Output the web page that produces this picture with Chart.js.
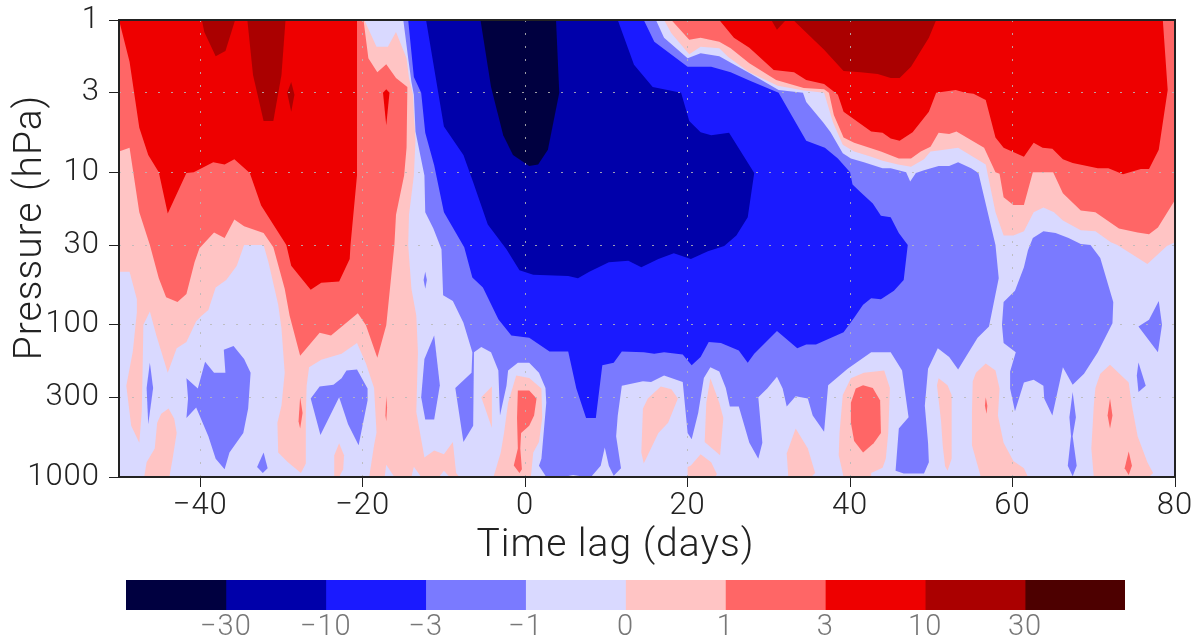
<!DOCTYPE html>
<html>
<head>
<meta charset="utf-8">
<title>Time lag pressure section</title>
<script src="https://cdn.jsdelivr.net/npm/chart.js@4"></script>
<style>
  html, body { margin: 0; padding: 0; background: #fff; }
  canvas { position: absolute; left: 0; display: block; }
  #mainChart { top: 0; }
  #barChart { top: 570px; }
</style>
</head>
<body>
<canvas id="mainChart" width="1199" height="570"></canvas>
<canvas id="barChart" width="1199" height="71"></canvas>
<script>
// --- Data: contour outlines as [lag in days, pressure in hPa] ---
const xTicks = [-40, -20, 0, 20, 40, 60, 80];
const pressureTicks = [1, 3, 10, 30, 100, 300, 1000];
const bandLabels = ['', '−30', '−10', '−3', '−1', '0', '1', '3', '10', '30', ''];
const bandColors = ['#000040', '#0000aa', '#1a1aff', '#7a7aff', '#d9d9ff', '#ffc4c4', '#ff6666', '#ee0000', '#aa0000', '#4d0000'];

const domain = [[-50,1],[80,1],[80,1000],[-50,1000]];

// above 0
const pinkWest = [[-50,1],[-19.8,1],[-18.3,1.5],[-16.9,1.5],[-15.9,1.2],[-14.6,1.78],[-14.3,2.4],[-13.8,3.1],[-13.7,4.2],[-13.5,6.1],[-13.7,10.5],[-14.3,19],[-14.4,30],[-14,58],[-13.4,87],[-13.2,152],[-13.4,375],[-12.4,745],[-11.2,670],[-10,710],[-8.9,590],[-8.5,940],[-8.1,1000],[-9.3,1000],[-10,910],[-10.6,1000],[-12.8,1000],[-13.7,855],[-14,1000],[-16.1,1000],[-17.1,830],[-17.3,1000],[-19.2,1000],[-18.6,620],[-18.3,510],[-18.6,260],[-19.6,180],[-20.7,132],[-22.6,155],[-25.1,170],[-26.6,190],[-26.9,252],[-27,380],[-27,815],[-27.6,940],[-29.2,800],[-30.4,690],[-30.5,440],[-30,340],[-29.6,207],[-30,106],[-30.4,74],[-31.6,39],[-32.2,30],[-34.6,30],[-35.5,41],[-36.8,51],[-38.1,57],[-39,80],[-39.9,88],[-40.5,95],[-41.7,130],[-42.9,143],[-44,207],[-45.4,118],[-46.2,82],[-47,100],[-47.1,207],[-47.2,375],[-47.5,595],[-48.5,460],[-49.1,252],[-48.3,150],[-47.8,83],[-47.8,68],[-48.7,45],[-50,45]];
const pinkEast = [[17.1,1],[80,1],[80,28.8],[79,30.5],[76.6,40],[72.9,30],[72.1,28.8],[70.2,24.4],[68.4,24],[66.2,20.7],[65.1,18.3],[63.8,17],[62.6,18.3],[61.4,24.4],[60.1,26],[58.9,26],[57.9,18.3],[56.7,8.9],[53.3,6.9],[50.9,7.2],[49.9,7.3],[49.1,8.2],[47.5,9.2],[45.9,8.9],[44,8.4],[42.6,7.9],[40.5,7.3],[39.1,6.6],[37.9,4.7],[36.8,3],[34.3,2.9],[31.1,2.7],[27.6,2.2],[25,1.75],[23.9,1.53],[21.6,1.5],[20.2,1.68],[18,1.22]];
const pinkLobes = [
  [[-46.9,1000],[-46.6,800],[-45.6,650],[-45.3,440],[-44.8,385],[-43.9,355],[-43.2,415],[-42.9,515],[-43.4,760],[-43.8,1000]],
  [[-23.5,1000],[-23.5,720],[-22.9,600],[-22.3,720],[-22.4,890],[-22.9,1000]],
  [[-5.4,300],[-4.1,255],[-4.1,475]],
  [[-3.9,1000],[-3,690],[-2.6,515],[-2.1,325],[-1.1,216],[0.5,224],[2,262],[2.1,410],[1.7,590],[1,690],[0.7,1000]],
  [[14.3,690],[14.5,355],[15.1,305],[16.7,255],[18,265],[18.8,305],[17.6,440],[16.4,515],[14.6,815]],
  [[20,1000],[20,860],[20.4,840],[21.6,710],[22.9,800],[23.6,955],[23.4,1000]],
  [[22.1,590],[22.3,325],[22.8,225],[23.9,325],[24.4,410],[24,720]],
  [[32.4,1000],[32.2,700],[33.3,480],[34.8,650],[35.7,940],[35.2,1000]],
  [[39.2,1000],[38.6,720],[38.7,515],[39.1,290],[40.1,225],[41.7,207],[44.2,200],[44.9,260],[44.7,515],[44.4,760],[44,870],[42.6,940],[42.6,1000]],
  [[50.7,250],[50.9,225],[52,250],[52.5,290],[52.5,760],[52,910],[51.7,850],[51.4,620],[51.2,430]],
  [[56.1,1000],[55,620],[55,380],[55.1,235],[55.5,207],[56.7,180],[57.9,200],[58.4,262],[58.2,395],[58.9,595],[60.1,785],[61.4,875],[61.9,1000]],
  [[70,1000],[69.7,650],[70,340],[70.2,260],[70.8,210],[72,183],[74.3,240],[74.7,340],[75.4,540],[76.6,800],[77.3,940],[76.8,1000]]
];

// above 1
const salmonWest = [[-50,1],[-19.9,1],[-19.3,1.78],[-18.2,2.2],[-17.1,1.95],[-15.9,2.4],[-14.5,2.75],[-14.6,6.9],[-14.9,10.5],[-15.9,19],[-16.1,30],[-17.1,101],[-18.2,165],[-19.6,101],[-20.6,84],[-23.9,118],[-25.3,113],[-27.7,160],[-29,87],[-29.6,58],[-31,31],[-32.2,25],[-34.6,22.6],[-35.8,20.4],[-37,27],[-38.3,24.8],[-40.1,31.5],[-40.7,39],[-41.7,63],[-42.8,71],[-44.2,66],[-45.1,49.5],[-46.2,30],[-47.5,18.3],[-48.7,6.9],[-50,7.3]];
const salmonEast = [[18,1],[80,1],[80,15.2],[77.9,23],[76.8,25.5],[75.4,24.8],[73.1,23.4],[70.2,18.3],[68.4,17.8],[66.2,13.7],[65,10],[62.5,10],[61.4,16.4],[60.1,16.4],[58.9,14.6],[58.4,10.2],[57.9,10],[56.5,6.9],[53.1,5.4],[52.2,5.6],[50.9,5.5],[49.9,6.8],[48.7,7.3],[47.5,8.1],[46,8.1],[43.8,7.3],[40.5,6.4],[39.2,5.9],[38,4.2],[37.4,3],[36.8,2.85],[34.3,2.8],[30.9,2.48],[27.6,1.92],[25.3,1.53],[23.9,1.39],[21.6,1.31],[20.2,1.35]];
const salmonLobes = [
  [[-27.7,300],[-27.9,430],[-27.7,480],[-27.4,380]],
  [[-17.1,295],[-17.2,395],[-17.1,430],[-17,350]],
  [[-0.9,270],[0.5,270],[1.4,305],[1.1,395],[0.5,460],[-0.5,515],[-0.6,650],[-0.4,890],[-0.7,940],[-1.4,840],[-0.9,650],[-1,410]],
  [[40.1,325],[40.7,262],[41.6,250],[42.8,260],[43.7,315],[43.8,515],[42.9,600],[41.6,690],[40.5,580],[40.1,440]],
  [[56.7,300],[56.9,340],[56.8,385],[56.6,340]],
  [[72,305],[72.3,395],[72,480],[71.7,395]],
  [[74.3,680],[74.7,845],[74.3,970],[73.8,875]]
];

// above 3
const redWest = [[-50,1],[-48.7,1.88],[-47.5,5.1],[-46.4,7.7],[-45.1,10],[-44,18.6],[-41.7,10.1],[-40.8,10],[-38.4,8.6],[-37,8.9],[-35.8,8.2],[-33.9,10.1],[-32.5,16.5],[-29.4,30],[-28.8,41],[-26.4,59],[-25.1,53],[-22.9,52],[-21.6,37],[-21.5,30],[-20.7,10.5],[-20.7,5.9],[-20.7,1]];
const redSpot = [[-17.5,3],[-17.1,2.85],[-16.7,3],[-17.1,4.9]];
const redEast = [[23.9,1],[25.7,1.31],[27.6,1.52],[30.6,2.13],[33.1,2.2],[34.6,2.48],[36.8,2.63],[38.5,3.1],[39.2,4],[42.6,5.4],[44,5.5],[45,6],[46.1,6.2],[47.7,5.45],[49.7,4],[50.6,3],[53,2.88],[54.2,3],[55.2,3.05],[56.7,3.35],[57.9,5.9],[58.9,6.9],[61.4,7.9],[62.6,6.4],[63.7,6.9],[64.9,7],[66.2,8.2],[67.4,8.7],[70.5,9.4],[71.8,9.4],[73.6,10.3],[75.8,9.5],[76.8,9.5],[78,7.1],[79.1,2.88],[78.5,1]];

// above 10
const darkRedPatches = [
  [[-39.8,1],[-39.5,1.2],[-38.1,1.73],[-36.9,1.6],[-35.7,1]],
  [[-34.2,1],[-33.5,2.3],[-32.2,4.6],[-31,4.6],[-30,2.3],[-29.5,1]],
  [[-29.3,3],[-28.8,2.55],[-28.4,3.1],[-28.8,4]],
  [[33,1],[50.6,1],[49.7,1.31],[47.5,2.03],[46.1,2.4],[45,2.4],[43.4,2.26],[41.3,2.2],[39.2,2.16],[36.8,1.57]],
  [[30.3,1],[31,1.16],[32.1,1]]
];

// below -1
const periMain = [[-15,1],[-14.4,1.78],[-14,2.55],[-13.7,3.1],[-13.5,5.4],[-12.4,10.5],[-12.3,18.3],[-11.3,23.4],[-10.3,32],[-10.1,64],[-8.9,70],[-7.6,97],[-6.5,152],[-6.6,207],[-8.6,260],[-7.6,590],[-6.4,460],[-6.3,152],[-5.4,140],[-4.2,152],[-3.3,200],[-3.1,395],[-2.3,252],[-2.1,200],[-0.9,178],[0.5,178],[1.7,207],[2.5,260],[2.6,325],[2,760],[1.7,845],[2.6,1000],[4.7,1000],[5.9,970],[7.5,1000],[8.1,1000],[9.3,845],[9.8,640],[10.3,845],[10.9,980],[11.8,875],[11.2,540],[11.4,395],[11.9,252],[14.5,235],[15.5,238],[17.1,216],[19.4,238],[20,515],[20.5,565],[21.3,380],[22,224],[22.8,190],[23.9,203],[24.7,260],[25.2,345],[26.3,345],[27.6,595],[28.7,760],[29.2,595],[28.7,300],[29.8,262],[31,220],[31.7,262],[32.2,345],[33.3,295],[34.8,305],[35.4,395],[36.8,505],[37.3,250],[39.7,195],[42.6,152],[45,152],[46.4,200],[47.2,405],[46,480],[45.6,910],[46.6,950],[49.1,950],[49.7,800],[49.6,595],[49.2,340],[49.6,195],[50.8,143],[52.2,163],[53.3,197],[54.6,152],[55.7,122],[57.1,103],[58.3,49.5],[57.9,30],[55.8,10.1],[54.9,9.4],[53.3,8.6],[52.2,9.1],[50.9,9.1],[49.1,9.7],[48.1,10.1],[47.4,11.5],[46.9,10],[45,9.4],[44,9.4],[41.7,8.6],[40.1,8.1],[39.1,7.5],[37.6,5.45],[36.7,4.7],[34.6,3.45],[34.2,3],[31.2,2.88],[27.6,2.23],[23.9,1.73],[21.6,1.65],[20,1.78],[17.1,1.31],[16.1,1]];
const periIslands = [
  [[-46.2,178],[-45.8,260],[-46.4,450],[-46.6,260]],
  [[-41.7,225],[-40.3,262],[-39.4,175],[-38.3,207],[-36.9,207],[-37.1,146],[-35.9,138],[-34.6,168],[-33.8,207],[-34.1,355],[-34.7,515],[-36.4,690],[-37,890],[-38.1,760],[-39,540],[-40.5,350],[-41.7,410],[-41.5,305]],
  [[-32.2,690],[-31.7,875],[-32.3,940],[-33,860]],
  [[-26.4,305],[-25.3,255],[-23.6,248],[-22.6,225],[-22,200],[-20.7,197],[-19.4,262],[-19.4,315],[-20.5,620],[-21.8,450],[-22.9,300],[-25.2,530]],
  [[-12.3,45],[-12.1,51],[-12.3,58],[-12.5,51]],
  [[-11.2,118],[-10.5,250],[-11.2,420],[-12.3,420],[-12.8,300],[-12.4,168]],
  [[61.9,32.5],[62.5,27],[63.8,24.4],[65.3,25],[66.9,27],[68.4,29.5],[69.6,30],[70.8,36.5],[72.4,71],[72.3,98],[70.5,152],[68.8,210],[67.4,248],[66.2,190],[64.9,395],[63.9,305],[63.8,252],[62.6,230],[61.4,240],[60.3,370],[59.7,262],[59.7,203],[60.4,152],[58.9,132],[58.7,100],[58.9,71],[60.3,60],[61.4,42]],
  [[67.4,277],[67.8,405],[67.4,540],[67.9,845],[67.4,990],[66.8,845],[67.2,540],[67,405]],
  [[75.5,177],[76.4,252],[75.5,277],[75.3,216]],
  [[78,70],[78.4,100],[77.9,152],[75.5,103],[76.8,93]]
];

// below -3, -10, -30
const blueMain = [[-14.4,1],[-13.7,2.37],[-12.8,3],[-12.3,5.5],[-11.2,9],[-10,18.3],[-7.5,31],[-6.5,49],[-5.2,57],[-3.3,92],[-1.7,118],[0.5,122],[3,150],[5.3,150],[6.3,262],[7.5,410],[8.7,410],[9.5,185],[10.9,178],[11.9,150],[14.6,152],[15.9,155],[17.1,152],[19.4,157],[20.5,185],[21.6,163],[22.6,130],[24.1,132],[26.3,148],[27.4,178],[28.2,155],[31,110],[33.5,143],[34.6,135],[35.8,135],[39.2,112],[40.5,90],[41.6,74],[42.6,67],[43.8,68],[45.4,60],[46.6,51],[47.1,30],[46,25],[45,19.7],[43.8,19.3],[42.8,16],[41.3,13.5],[40.3,12],[40,10],[38.5,8.1],[36.9,6.9],[34.6,6.2],[31.2,3],[27.6,2.5],[25.3,2.2],[22.9,2.03],[20,2.03],[15.9,1.39],[14.6,1]];
const navyMain = [[-12.2,1],[-10,5],[-7.6,7.7],[-6.4,11.6],[-4.6,22],[-2.3,32],[-0.7,44],[1,47],[5.3,48],[6.5,49.5],[7.9,45],[10.3,39],[12.7,38],[14.3,42],[16.4,37],[18.3,34],[20.4,37],[22.5,33],[24.5,30.5],[26,26],[27.4,19.7],[28.2,10.1],[25.1,5.5],[22.9,5.7],[21.6,5.45],[20.2,4.6],[19.2,3],[15.7,2.75],[13.4,1.97],[11.4,1]];
const inkCore = [[-5.5,1],[-4.2,2.75],[-2.7,5.7],[-1.5,7.7],[0.5,9.1],[1.6,8.9],[2.8,7.1],[4.2,3],[3.8,1]];

// --- Painted in order, deepest band last ---
const layers = [
  [domain, bandColors[4]],
  [pinkWest, bandColors[5]], [pinkEast, bandColors[5]],
  ...pinkLobes.map(p => [p, bandColors[5]]),
  [salmonWest, bandColors[6]], [salmonEast, bandColors[6]],
  ...salmonLobes.map(p => [p, bandColors[6]]),
  [redWest, bandColors[7]], [redSpot, bandColors[7]], [redEast, bandColors[7]],
  ...darkRedPatches.map(p => [p, bandColors[8]]),
  [periMain, bandColors[3]],
  ...periIslands.map(p => [p, bandColors[3]]),
  [blueMain, bandColors[2]],
  [navyMain, bandColors[1]],
  [inkCore, bandColors[0]]
];

const TEXT_FONT = 'Roboto, "Liberation Sans", sans-serif';

// fills each dataset's points as a closed shape, positions come from the chart's scales
const bandFill = {
  id: 'bandFill',
  beforeDraw(chart) {
    chart.ctx.letterSpacing = '1px';
  },
  beforeDatasetsDraw(chart) {
    const ctx = chart.ctx;
    chart.data.datasets.forEach((ds, i) => {
      const pts = chart.getDatasetMeta(i).data;
      ctx.beginPath();
      pts.forEach((p, k) => k ? ctx.lineTo(p.x, p.y) : ctx.moveTo(p.x, p.y));
      ctx.closePath();
      ctx.fillStyle = ds.backgroundColor;
      ctx.fill();
    });
  },
  afterDraw(chart) {
    const a = chart.chartArea;
    chart.ctx.save();
    chart.ctx.strokeStyle = '#222';
    chart.ctx.lineWidth = 2;
    chart.ctx.strokeRect(a.left, a.top, a.right - a.left, a.bottom - a.top);
    chart.ctx.restore();
  }
};

const dotted = 'rgba(185,185,185,0.85)';

// the axis labels should not push the plot area around
function noMargins(s) {
  s.paddingTop = 0;
  s.paddingBottom = 0;
  s.paddingLeft = 0;
  s.paddingRight = 0;
}

// non-breaking spaces nudge the centred axis titles off centre, as in the original
const nudge = n => '\u00a0'.repeat(n);

new Chart(document.getElementById('mainChart'), {
  type: 'scatter',
  data: {
    datasets: layers.map(([pts, color]) => ({
      data: pts.map(([x, y]) => ({ x, y })),
      backgroundColor: color,
      pointRadius: 0,
      showLine: false
    }))
  },
  options: {
    responsive: false,
    animation: false,
    layout: { padding: { left: 0, right: 24, top: 20, bottom: 0 } },
    plugins: { legend: { display: false }, tooltip: { enabled: false } },
    scales: {
      x: {
        type: 'linear',
        min: -50,
        max: 80,
        afterBuildTicks: s => { s.ticks = xTicks.map(value => ({ value })); },
        afterFit: s => { s.height = 93; noMargins(s); },
        grid: {
          z: 1,
          color: c => c.tick && c.tick.value === 80 ? 'transparent' : dotted,
          lineWidth: 1,
          tickColor: '#222',
          tickLength: 10,
          tickBorderDash: []
        },
        border: { display: false, dash: [2, 11] },
        ticks: {
          color: '#222',
          padding: 1,
          maxRotation: 0,
          autoSkip: false,
          font: { family: TEXT_FONT, size: 31, weight: '300' },
          callback: v => (v < 0 ? '−' + Math.abs(v) : String(v))
        },
        title: {
          display: true,
          text: 'Time lag (days)' + nudge(6),
          color: '#222',
          padding: 0,
          font: { family: TEXT_FONT, size: 39, weight: '300' }
        }
      },
      y: {
        type: 'logarithmic',
        reverse: true,
        min: 1,
        max: 1000,
        afterBuildTicks: s => { s.ticks = pressureTicks.map(value => ({ value })); },
        afterFit: s => { s.width = 119; noMargins(s); },
        grid: {
          z: 1,
          color: c => c.tick && (c.tick.value === 1 || c.tick.value === 1000) ? 'transparent' : dotted,
          lineWidth: 1,
          tickColor: '#222',
          tickLength: 10,
          tickBorderDash: []
        },
        border: { display: false, dash: [2, 11] },
        ticks: {
          color: '#222',
          padding: 9,
          autoSkip: false,
          font: { family: TEXT_FONT, size: 31, weight: '300' },
          callback: v => String(v)
        },
        title: {
          display: true,
          text: nudge(4) + 'Pressure (hPa)',
          color: '#222',
          padding: { top: 8, bottom: 0 },
          font: { family: TEXT_FONT, size: 39, weight: '300' }
        }
      }
    }
  },
  plugins: [bandFill]
});

// --- Colour key ---
new Chart(document.getElementById('barChart'), {
  type: 'bar',
  data: {
    labels: ['key'],
    datasets: bandColors.map(color => ({
      data: [1],
      backgroundColor: color,
      barPercentage: 1,
      categoryPercentage: 1
    }))
  },
  options: {
    indexAxis: 'y',
    responsive: false,
    animation: false,
    layout: { padding: { left: 126, right: 74, top: 10, bottom: 0 } },
    plugins: { legend: { display: false }, tooltip: { enabled: false } },
    scales: {
      x: {
        stacked: true,
        min: 0,
        max: bandColors.length,
        afterFit: s => { s.height = 31; noMargins(s); },
        grid: { display: false, drawTicks: false },
        border: { display: false },
        ticks: {
          stepSize: 1,
          color: '#777',
          padding: 0,
          maxRotation: 0,
          autoSkip: false,
          font: { family: TEXT_FONT, size: 29, weight: '300' },
          callback: v => bandLabels[v]
        }
      },
      y: { stacked: true, display: false }
    }
  },
  plugins: [{ id: 'keySpacing', beforeDraw: c => { c.ctx.letterSpacing = '1px'; } }]
});
</script>
</body>
</html>
